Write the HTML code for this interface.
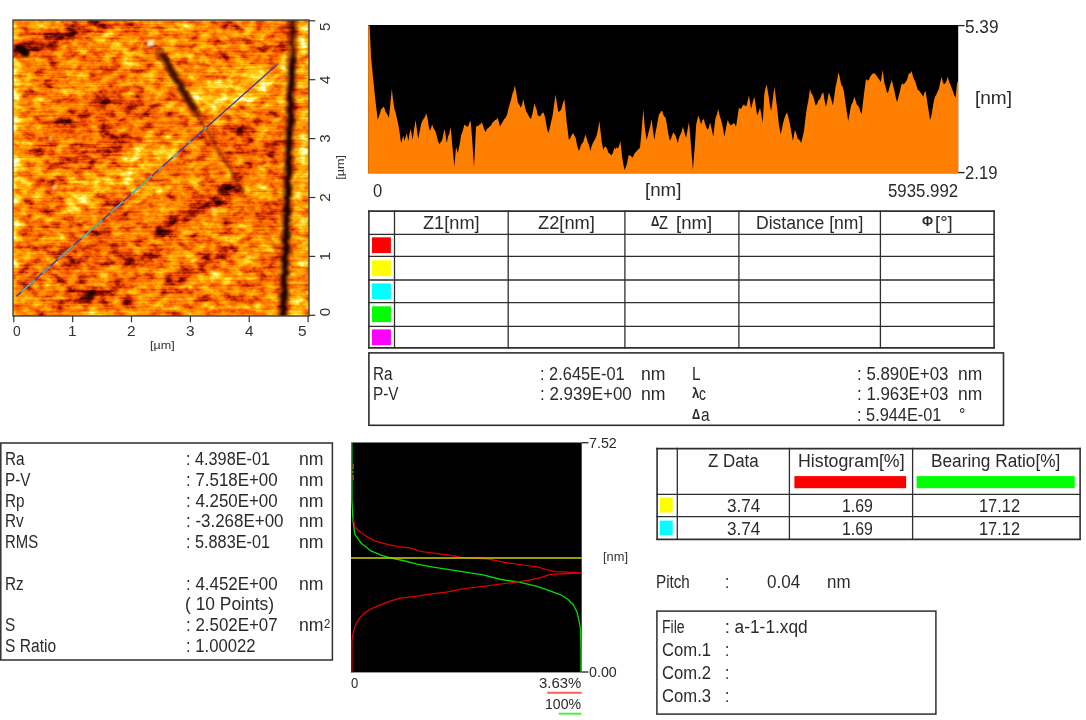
<!DOCTYPE html>
<html lang="en"><head><meta charset="utf-8"><title>AFM Analysis Report</title>
<style>
html,body{margin:0;padding:0;background:#fff;}
body{width:1086px;height:720px;position:relative;overflow:hidden;font-family:"Liberation Sans",sans-serif;}
#g{position:absolute;left:0;top:0;width:1086px;height:720px;}
.t{position:absolute;white-space:pre;transform-origin:0 0;font-family:"Liberation Sans",sans-serif;}
</style></head><body>
<svg id="g" width="1086" height="720" viewBox="0 0 1086 720">
<defs>
<filter id="afm" x="0" y="0" width="100%" height="100%" filterUnits="objectBoundingBox" color-interpolation-filters="sRGB">
  <feGaussianBlur in="SourceGraphic" stdDeviation="2.0" result="feat"/>
  <feTurbulence type="fractalNoise" baseFrequency="0.09 0.135" numOctaves="3" seed="7" result="n1"/>
  <feColorMatrix in="n1" type="matrix" values="1 0 0 0 0  1 0 0 0 0  1 0 0 0 0  0 0 0 0 1" result="g1"/>
  <feTurbulence type="fractalNoise" baseFrequency="0.032 0.045" numOctaves="2" seed="3" result="n2"/>
  <feColorMatrix in="n2" type="matrix" values="0 1 0 0 0  0 1 0 0 0  0 1 0 0 0  0 0 0 0 1" result="g2"/>
  <feTurbulence type="fractalNoise" baseFrequency="0.02 0.45" numOctaves="2" seed="11" result="n3"/>
  <feColorMatrix in="n3" type="matrix" values="0 0 1 0 0  0 0 1 0 0  0 0 1 0 0  0 0 0 0 1" result="g3"/>
  <feComposite in="g1" in2="g2" operator="arithmetic" k1="0" k2="0.86" k3="0.40" k4="-0.13" result="nz0"/>
  <feComposite in="nz0" in2="g3" operator="arithmetic" k1="0" k2="1" k3="0.32" k4="-0.16" result="nz"/>
  <feComposite in="nz" in2="feat" operator="arithmetic" k1="0" k2="1" k3="1" k4="-0.5" result="h"/>
  <feComponentTransfer in="h">
    <feFuncR type="table" tableValues="0 0.22 0.45 0.68 0.88 0.98 1 1 1 1 1"/>
    <feFuncG type="table" tableValues="0 0 0.04 0.13 0.26 0.40 0.53 0.66 0.79 0.90 1"/>
    <feFuncB type="table" tableValues="0 0 0 0 0 0 0 0.02 0.08 0.30 0.80"/>
    <feFuncA type="linear" slope="0" intercept="1"/>
  </feComponentTransfer>
</filter>
<filter id="ovb" x="0" y="0" width="330" height="340" filterUnits="userSpaceOnUse" color-interpolation-filters="sRGB"><feTurbulence type="fractalNoise" baseFrequency="0.06 0.16" numOctaves="2" seed="21" result="dn"/><feDisplacementMap in="SourceGraphic" in2="dn" scale="5" xChannelSelector="R" yChannelSelector="G" result="dp"/><feGaussianBlur in="dp" stdDeviation="1.0"/></filter>
<clipPath id="afmclip"><rect x="13.0" y="20.0" width="296.0" height="296.0"/></clipPath>
</defs>
<g clip-path="url(#afmclip)"><g filter="url(#afm)"><rect x="0" y="0" width="330" height="340" fill="rgb(147,147,147)"/><rect x="0" y="0" width="330" height="340" fill="rgb(147,147,147)"/><path d="M78.0 197.0 L120.0 172.0 L165.0 148.0" fill="none" stroke="rgb(191,191,191)" stroke-width="26" stroke-linecap="round" stroke-linejoin="round" opacity="0.75"/><path d="M205.0 100.0 L245.0 84.0 L282.0 70.0" fill="none" stroke="rgb(207,207,207)" stroke-width="30" stroke-linecap="round" stroke-linejoin="round" opacity="0.8"/><path d="M110.0 42.0 L150.0 30.0 L185.0 30.0" fill="none" stroke="rgb(178,178,178)" stroke-width="18" stroke-linecap="round" stroke-linejoin="round" opacity="0.5"/><path d="M180.0 300.0 L230.0 270.0 L275.0 250.0" fill="none" stroke="rgb(173,173,173)" stroke-width="22" stroke-linecap="round" stroke-linejoin="round" opacity="0.5"/><path d="M303.0 20.0 L300.0 316.0" fill="none" stroke="rgb(189,189,189)" stroke-width="11" stroke-linecap="round" stroke-linejoin="round" opacity="0.75"/><path d="M304.0 30.0 L303.0 150.0" fill="none" stroke="rgb(209,209,209)" stroke-width="7" stroke-linecap="round" stroke-linejoin="round" opacity="0.5"/><path d="M14.0 20.0 L14.0 316.0" fill="none" stroke="rgb(255,255,255)" stroke-width="3.5" stroke-linecap="round" stroke-linejoin="round" opacity="0.9"/><path d="M16.0 20.0 L16.0 316.0" fill="none" stroke="rgb(214,214,214)" stroke-width="7" stroke-linecap="round" stroke-linejoin="round" opacity="0.6"/><path d="M19.0 110.0 L19.0 316.0" fill="none" stroke="rgb(178,178,178)" stroke-width="8" stroke-linecap="round" stroke-linejoin="round" opacity="0.5"/><path d="M18.0 52.0 L55.0 38.0 L100.0 24.0" fill="none" stroke="rgb(56,56,56)" stroke-width="15" stroke-linecap="round" stroke-linejoin="round" opacity="0.85"/><ellipse cx="95" cy="132" rx="66" ry="30" fill="rgb(107,107,107)" opacity="0.7" transform="rotate(-22 95 132)"/><ellipse cx="245" cy="140" rx="36" ry="22" fill="rgb(107,107,107)" opacity="0.7" transform="rotate(-15 245 140)"/><path d="M150.0 236.0 L195.0 210.0 L236.0 190.0" fill="none" stroke="rgb(66,66,66)" stroke-width="13" stroke-linecap="round" stroke-linejoin="round" opacity="0.8"/><ellipse cx="90" cy="262" rx="72" ry="42" fill="rgb(112,112,112)" opacity="0.65" transform="rotate(-15 90 262)"/><path d="M168.0 282.0 L200.0 266.0 L232.0 250.0" fill="none" stroke="rgb(71,71,71)" stroke-width="11" stroke-linecap="round" stroke-linejoin="round" opacity="0.75"/><path d="M276.0 30.0 L275.0 300.0" fill="none" stroke="rgb(117,117,117)" stroke-width="10" stroke-linecap="round" stroke-linejoin="round" opacity="0.5"/><ellipse cx="288" cy="32" rx="8" ry="14" fill="rgb(64,64,64)" opacity="0.7" transform="rotate(0 288 32)"/><ellipse cx="225" cy="35" rx="36" ry="10" fill="rgb(117,117,117)" opacity="0.5" transform="rotate(0 225 35)"/><ellipse cx="222" cy="190" rx="8.4" ry="7.199999999999999" fill="rgb(51,51,51)" opacity="0.7" transform="rotate(-25 222 190)"/><ellipse cx="236" cy="178" rx="7.199999999999999" ry="6.0" fill="rgb(71,71,71)" opacity="0.7" transform="rotate(-25 236 178)"/><ellipse cx="135" cy="260" rx="9.6" ry="6.0" fill="rgb(71,71,71)" opacity="0.7" transform="rotate(-25 135 260)"/><ellipse cx="90" cy="295" rx="9.6" ry="6.0" fill="rgb(51,51,51)" opacity="0.7" transform="rotate(-25 90 295)"/><ellipse cx="55" cy="255" rx="9.6" ry="4.8" fill="rgb(84,84,84)" opacity="0.7" transform="rotate(-25 55 255)"/><ellipse cx="65" cy="120" rx="10.799999999999999" ry="6.0" fill="rgb(76,76,76)" opacity="0.7" transform="rotate(-25 65 120)"/><ellipse cx="50" cy="140" rx="9.6" ry="4.8" fill="rgb(84,84,84)" opacity="0.7" transform="rotate(-25 50 140)"/><ellipse cx="115" cy="145" rx="9.6" ry="6.0" fill="rgb(84,84,84)" opacity="0.7" transform="rotate(-25 115 145)"/><ellipse cx="245" cy="130" rx="9.6" ry="6.0" fill="rgb(76,76,76)" opacity="0.7" transform="rotate(-25 245 130)"/><ellipse cx="270" cy="150" rx="8.4" ry="4.8" fill="rgb(84,84,84)" opacity="0.7" transform="rotate(-25 270 150)"/><ellipse cx="60" cy="62" rx="10.799999999999999" ry="4.8" fill="rgb(97,97,97)" opacity="0.7" transform="rotate(-25 60 62)"/><ellipse cx="35" cy="215" rx="9.6" ry="4.8" fill="rgb(97,97,97)" opacity="0.7" transform="rotate(-25 35 215)"/><ellipse cx="120" cy="205" rx="8.4" ry="4.8" fill="rgb(110,110,110)" opacity="0.7" transform="rotate(-25 120 205)"/><ellipse cx="262" cy="215" rx="8.4" ry="4.8" fill="rgb(97,97,97)" opacity="0.7" transform="rotate(-25 262 215)"/><ellipse cx="130" cy="300" rx="9.6" ry="4.8" fill="rgb(97,97,97)" opacity="0.7" transform="rotate(-25 130 300)"/><ellipse cx="205" cy="155" rx="8.4" ry="4.8" fill="rgb(97,97,97)" opacity="0.7" transform="rotate(-25 205 155)"/><ellipse cx="270" cy="262" rx="9.6" ry="3.5999999999999996" fill="rgb(84,84,84)" opacity="0.7" transform="rotate(-25 270 262)"/><ellipse cx="100" cy="100" rx="9.6" ry="4.8" fill="rgb(97,97,97)" opacity="0.7" transform="rotate(-25 100 100)"/><ellipse cx="150" cy="118" rx="8.4" ry="4.8" fill="rgb(102,102,102)" opacity="0.7" transform="rotate(-25 150 118)"/><ellipse cx="200" cy="300" rx="8.4" ry="4.8" fill="rgb(110,110,110)" opacity="0.7" transform="rotate(-25 200 300)"/><ellipse cx="250" cy="290" rx="8.4" ry="4.8" fill="rgb(110,110,110)" opacity="0.7" transform="rotate(-25 250 290)"/></g>
<g filter="url(#ovb)"><path d="M292.8 20.0 L291.8 61.0 L290.3 110.0 L287.7 184.0 L285.6 250.0 L283.1 316.0" fill="none" stroke="#7a1e00" stroke-width="10.5" stroke-linecap="round" stroke-linejoin="round" opacity="0.55"/><path d="M292.3 60.0 L290.3 110.0 L287.7 184.0 L285.6 250.0 L283.1 316.0" fill="none" stroke="#1c0300" stroke-width="5.2" stroke-linecap="round" stroke-linejoin="round" opacity="0.95"/><path d="M292.8 20.0 L292.3 60.0" fill="none" stroke="#2a0500" stroke-width="3.4" stroke-linecap="round" stroke-linejoin="round" opacity="0.7"/><path d="M163.3 55.0 L176.0 79.0 L193.9 108.4" fill="none" stroke="#0e0100" stroke-width="5.6" stroke-linecap="round" stroke-linejoin="round" opacity="0.95"/><path d="M160.0 52.0 L196.0 112.0" fill="none" stroke="#7a1c00" stroke-width="10" stroke-linecap="round" stroke-linejoin="round" opacity="0.5"/><path d="M193.9 108.4 L210.0 137.0 L226.8 163.9 L243.3 192.7" fill="none" stroke="#5a1000" stroke-width="3.0" stroke-linecap="round" stroke-linejoin="round" opacity="0.5"/><path d="M243.3 192.7 L260.0 222.0 L276.2 250.3" fill="none" stroke="#6a1800" stroke-width="2.4" stroke-linecap="round" stroke-linejoin="round" opacity="0.22"/><ellipse cx="23" cy="50.5" rx="7.5" ry="4.2" fill="#0c0000" opacity="0.95" transform="rotate(30 23 50.5)"/><ellipse cx="88" cy="297" rx="5" ry="3" fill="#1c0300" opacity="0.8"/><ellipse cx="221" cy="191" rx="4" ry="3.5" fill="#2a0500" opacity="0.7"/><ellipse cx="151" cy="43" rx="4.2" ry="3.4" fill="#fff3c0" opacity="0.95"/><ellipse cx="54.5" cy="188" rx="2.2" ry="2.6" fill="#fff0b0" opacity="0.9"/><ellipse cx="213.2" cy="209.1" rx="2.2" ry="1.8" fill="#fff0b0" opacity="0.9"/><ellipse cx="50" cy="139" rx="1.8" ry="1.8" fill="#ffe890" opacity="0.85"/></g>
<line x1="16.3" y1="296.3" x2="277.2" y2="64.5" stroke="#4038a8" stroke-width="1.35"/>
<line x1="21.5" y1="291.7" x2="34.6" y2="280.1" stroke="#52c2ae" stroke-width="1.35"/>
<line x1="42.4" y1="273.1" x2="50.2" y2="266.2" stroke="#52c2ae" stroke-width="1.35"/>
<line x1="58.0" y1="259.2" x2="73.7" y2="245.3" stroke="#52c2ae" stroke-width="1.35"/>
<line x1="81.5" y1="238.4" x2="102.4" y2="219.8" stroke="#52c2ae" stroke-width="1.35"/>
<line x1="110.2" y1="212.9" x2="123.3" y2="201.3" stroke="#52c2ae" stroke-width="1.35"/>
<line x1="131.1" y1="194.3" x2="152.0" y2="175.8" stroke="#52c2ae" stroke-width="1.35"/>
<line x1="158.5" y1="170.0" x2="162.4" y2="166.5" stroke="#52c2ae" stroke-width="1.35"/>
<line x1="172.8" y1="157.2" x2="178.1" y2="152.6" stroke="#52c2ae" stroke-width="1.35"/>
<line x1="188.5" y1="143.3" x2="191.1" y2="141.0" stroke="#52c2ae" stroke-width="1.35"/>
<line x1="204.1" y1="129.4" x2="206.8" y2="127.1" stroke="#52c2ae" stroke-width="1.35"/>
</g>
<rect x="13.0" y="20.0" width="296.00" height="296.00" fill="none" stroke="#444" stroke-width="1.4"/>
<line x1="13.8" y1="316" x2="13.8" y2="322.2" stroke="#333" stroke-width="1.2"/>
<line x1="309" y1="20.8" x2="315.3" y2="20.8" stroke="#333" stroke-width="1.2"/>
<line x1="72.7" y1="316" x2="72.7" y2="322.2" stroke="#333" stroke-width="1.2"/>
<line x1="309" y1="79.7" x2="315.3" y2="79.7" stroke="#333" stroke-width="1.2"/>
<line x1="131.5" y1="316" x2="131.5" y2="322.2" stroke="#333" stroke-width="1.2"/>
<line x1="309" y1="138.6" x2="315.3" y2="138.6" stroke="#333" stroke-width="1.2"/>
<line x1="190.4" y1="316" x2="190.4" y2="322.2" stroke="#333" stroke-width="1.2"/>
<line x1="309" y1="197.5" x2="315.3" y2="197.5" stroke="#333" stroke-width="1.2"/>
<line x1="249.2" y1="316" x2="249.2" y2="322.2" stroke="#333" stroke-width="1.2"/>
<line x1="309" y1="256.4" x2="315.3" y2="256.4" stroke="#333" stroke-width="1.2"/>
<line x1="308.1" y1="316" x2="308.1" y2="322.2" stroke="#333" stroke-width="1.2"/>
<line x1="309" y1="315.3" x2="315.3" y2="315.3" stroke="#333" stroke-width="1.2"/>
<text transform="translate(329.80 30.91) rotate(-90) scale(1.0800 1)" font-family="Liberation Sans, sans-serif" font-size="14" fill="#333">5</text>
<text transform="translate(329.80 83.91) rotate(-90) scale(1.0800 1)" font-family="Liberation Sans, sans-serif" font-size="14" fill="#333">4</text>
<text transform="translate(329.80 142.81) rotate(-90) scale(1.0800 1)" font-family="Liberation Sans, sans-serif" font-size="14" fill="#333">3</text>
<text transform="translate(329.80 201.71) rotate(-90) scale(1.0800 1)" font-family="Liberation Sans, sans-serif" font-size="14" fill="#333">2</text>
<text transform="translate(329.80 260.61) rotate(-90) scale(1.0800 1)" font-family="Liberation Sans, sans-serif" font-size="14" fill="#333">1</text>
<text transform="translate(329.80 316.21) rotate(-90) scale(1.0800 1)" font-family="Liberation Sans, sans-serif" font-size="14" fill="#333">0</text>
<text transform="translate(344.40 179.80) rotate(-90) scale(1.0973 1)" font-family="Liberation Sans, sans-serif" font-size="11.5" fill="#333">[µm]</text>
<rect x="368.2" y="25.0" width="590.00" height="148.30" fill="#000"/>
<path d="M368.2 173.3 L368.2 25.5 L369.6 25.5 L371.1 57.8 L373.3 80.0 L374.5 91.5 L375.6 102.2 L377.8 120.0 L380.0 113.3 L381.1 109.6 L382.2 108.2 L383.3 106.7 L384.4 108.0 L385.6 111.9 L386.7 113.3 L388.9 117.8 L390.4 103.6 L391.8 88.9 L393.1 100.2 L394.4 108.9 L395.5 112.0 L396.7 117.5 L397.8 122.2 L398.9 127.7 L400.0 135.4 L401.1 143.3 L403.3 135.6 L404.4 141.0 L405.5 137.2 L406.7 133.3 L408.4 141.0 L409.5 133.4 L410.7 128.9 L412.7 140.0 L414.1 129.0 L415.6 120.0 L416.9 129.9 L418.2 138.9 L419.6 131.8 L421.1 124.4 L422.4 120.7 L423.6 119.1 L424.9 117.1 L426.2 113.3 L427.5 117.7 L428.7 126.1 L430.0 131.1 L432.2 124.4 L433.3 127.8 L434.4 129.5 L435.6 131.7 L436.7 135.6 L438.1 141.5 L439.6 144.4 L440.9 141.7 L442.2 140.0 L444.4 128.9 L445.5 134.8 L446.7 143.3 L448.0 136.5 L449.4 133.3 L450.7 126.7 L452.2 144.4 L454.4 166.7 L456.0 146.7 L457.8 153.3 L458.9 147.7 L460.0 142.5 L461.1 135.6 L462.8 130.7 L464.4 124.4 L465.8 125.7 L467.1 126.7 L468.3 126.3 L469.5 122.6 L470.7 121.1 L472.2 140.0 L474.0 167.8 L476.0 126.7 L477.2 126.0 L478.3 126.0 L479.5 124.4 L480.6 124.3 L481.8 122.2 L483.1 125.8 L484.3 129.5 L485.6 132.2 L487.0 129.1 L488.4 128.0 L489.7 126.6 L491.1 125.6 L492.2 123.0 L493.3 122.1 L494.5 120.4 L495.6 119.7 L496.7 119.5 L497.8 117.8 L500.0 126.7 L501.1 124.5 L502.2 122.7 L503.4 120.4 L504.5 118.8 L505.6 117.8 L507.1 114.4 L508.5 108.6 L510.0 103.3 L511.2 99.2 L512.5 93.4 L513.7 90.8 L514.9 85.6 L516.3 92.8 L517.8 102.2 L519.2 104.6 L520.7 107.8 L522.0 104.9 L523.3 98.9 L524.6 105.4 L526.0 111.1 L527.3 113.2 L528.5 115.6 L529.8 118.0 L531.1 118.9 L532.8 112.0 L534.4 103.3 L535.5 106.5 L536.7 110.0 L537.8 115.6 L538.9 115.6 L540.0 116.7 L541.6 113.7 L543.3 112.2 L544.5 115.2 L545.6 120.0 L546.9 128.1 L548.2 133.3 L549.5 129.3 L550.9 122.4 L552.2 117.8 L553.3 110.5 L554.5 101.9 L555.6 94.4 L557.0 104.6 L558.4 112.2 L559.8 111.0 L561.1 110.0 L562.8 103.7 L564.4 98.9 L565.5 109.7 L566.7 122.2 L568.9 140.0 L570.4 138.0 L571.8 134.8 L573.3 133.3 L574.5 135.8 L575.6 137.8 L577.2 145.7 L578.9 151.1 L580.0 148.2 L581.1 145.0 L582.2 143.3 L583.3 141.9 L584.5 137.4 L585.6 134.4 L587.8 142.2 L589.1 145.3 L590.4 151.1 L591.6 146.3 L592.8 143.2 L594.0 141.1 L595.4 138.8 L596.7 135.6 L598.0 129.3 L599.3 121.1 L600.5 130.9 L601.6 141.1 L603.3 150.0 L604.5 147.0 L605.6 146.7 L607.0 148.5 L608.4 152.7 L609.7 153.5 L611.1 155.6 L612.8 153.2 L614.4 147.8 L615.5 149.3 L616.7 147.0 L617.8 148.9 L619.1 145.7 L620.4 141.1 L622.2 157.8 L624.4 170.0 L625.5 167.8 L626.7 164.4 L628.9 154.4 L630.0 155.7 L631.1 155.9 L632.2 157.8 L633.3 156.6 L634.5 153.2 L635.6 152.6 L636.7 151.1 L638.4 149.3 L640.0 147.8 L641.6 131.1 L643.3 108.9 L644.9 128.9 L646.7 140.0 L648.9 131.1 L650.2 126.5 L651.6 118.9 L653.0 130.7 L654.4 140.0 L655.5 132.6 L656.7 126.7 L658.9 114.4 L660.0 113.3 L661.1 111.2 L662.2 111.1 L663.3 114.7 L664.5 116.8 L665.6 117.8 L666.9 124.9 L668.2 133.3 L670.0 141.1 L671.6 137.1 L673.3 132.2 L674.5 134.2 L675.6 135.6 L677.8 143.3 L678.9 138.3 L680.0 135.6 L681.5 132.0 L682.9 126.7 L684.0 130.5 L685.1 135.0 L686.2 137.8 L687.5 130.1 L688.9 122.2 L690.0 132.9 L691.1 146.7 L692.9 170.0 L694.9 144.4 L696.2 124.4 L698.2 115.6 L699.7 119.4 L701.1 124.4 L702.5 120.1 L703.8 118.9 L705.1 124.0 L706.5 127.5 L707.8 130.0 L708.9 127.2 L710.0 122.2 L711.6 128.8 L713.3 136.7 L714.5 125.8 L715.6 117.8 L716.9 114.6 L718.2 108.9 L719.7 115.9 L721.1 120.0 L722.8 127.0 L724.4 136.7 L725.5 131.1 L726.7 124.2 L727.8 120.0 L728.9 122.7 L730.0 124.6 L731.1 125.6 L733.3 123.3 L734.6 123.8 L736.0 126.7 L737.5 117.2 L738.9 107.8 L740.0 108.5 L741.1 108.9 L742.5 105.9 L744.0 104.4 L745.4 106.2 L746.7 105.6 L748.9 95.6 L750.0 102.0 L751.1 108.9 L752.8 101.9 L754.4 96.7 L755.8 106.3 L757.1 115.6 L758.5 112.4 L760.0 107.8 L761.4 114.6 L762.7 123.3 L764.4 93.3 L765.5 88.2 L766.7 84.4 L768.9 97.8 L770.0 106.0 L771.1 111.1 L772.8 99.4 L774.4 86.7 L775.5 95.4 L776.7 104.4 L778.9 124.4 L780.7 134.4 L782.0 128.4 L783.3 122.2 L784.6 117.7 L785.8 114.7 L787.1 112.2 L788.5 117.8 L790.0 124.4 L791.5 133.0 L792.9 141.1 L794.9 130.0 L796.3 133.6 L797.8 138.9 L798.9 139.5 L800.0 140.5 L801.1 143.3 L802.5 137.6 L804.0 131.1 L805.4 119.1 L806.7 108.9 L808.4 100.2 L810.0 88.9 L811.1 92.8 L812.2 94.4 L813.3 96.8 L814.5 101.0 L815.6 105.6 L817.1 103.9 L818.5 100.2 L820.0 98.9 L821.6 94.4 L823.3 92.2 L824.6 100.8 L826.0 106.7 L827.5 99.7 L828.9 92.2 L830.0 95.5 L831.1 98.9 L832.9 105.6 L834.2 97.1 L835.6 86.7 L837.0 80.4 L838.4 72.2 L839.8 77.3 L841.1 84.4 L842.5 86.5 L843.8 91.1 L844.9 98.7 L846.0 106.7 L847.1 113.7 L848.2 121.1 L849.7 113.2 L851.1 105.6 L852.8 101.9 L854.4 96.7 L855.5 100.2 L856.7 104.2 L857.8 105.6 L859.1 107.2 L860.3 111.2 L861.6 114.4 L863.0 102.2 L864.4 91.1 L866.0 78.9 L867.5 80.6 L868.9 80.0 L870.0 77.0 L871.1 75.6 L872.8 73.5 L874.4 73.3 L875.5 74.6 L876.7 76.1 L877.8 77.8 L879.2 79.3 L880.7 82.2 L882.7 70.0 L884.4 83.3 L885.8 87.5 L887.1 93.3 L888.4 91.4 L889.6 86.7 L891.8 80.0 L893.1 85.4 L894.4 91.1 L895.8 97.8 L897.1 102.2 L898.5 96.8 L900.0 91.1 L901.1 85.8 L902.2 83.3 L903.3 84.5 L904.5 83.6 L905.6 82.2 L907.2 79.3 L908.9 73.3 L910.2 73.6 L911.6 71.1 L913.0 76.7 L914.4 80.0 L915.5 82.3 L916.7 86.6 L917.8 90.0 L918.9 90.2 L920.0 91.9 L921.1 93.3 L923.3 96.7 L924.5 92.5 L925.6 91.1 L927.8 105.6 L928.9 112.4 L930.0 120.0 L931.1 117.1 L932.2 111.1 L933.5 103.1 L934.9 96.7 L936.2 95.0 L937.6 91.4 L938.9 88.9 L940.2 82.6 L941.6 76.7 L942.8 82.0 L944.0 84.4 L946.0 82.2 L947.8 76.7 L949.1 82.1 L950.4 84.4 L951.8 88.5 L953.3 92.2 L954.5 95.7 L955.6 97.8 L957.1 82.2 L958.2 82.2 L958.2 173.3 Z" fill="#ff8000"/>
<line x1="958.2" y1="25.6" x2="964.6" y2="25.6" stroke="#222" stroke-width="1.3"/>
<line x1="958.2" y1="172.6" x2="964.6" y2="172.6" stroke="#222" stroke-width="1.3"/>
<line x1="368.9" y1="210.39999999999998" x2="368.9" y2="348.59999999999997" stroke="#2e2e2e" stroke-width="1.6"/>
<line x1="394.5" y1="210.39999999999998" x2="394.5" y2="348.59999999999997" stroke="#2e2e2e" stroke-width="1.3"/>
<line x1="508.2" y1="210.39999999999998" x2="508.2" y2="348.59999999999997" stroke="#2e2e2e" stroke-width="1.3"/>
<line x1="624.9" y1="210.39999999999998" x2="624.9" y2="348.59999999999997" stroke="#2e2e2e" stroke-width="1.3"/>
<line x1="738.9" y1="210.39999999999998" x2="738.9" y2="348.59999999999997" stroke="#2e2e2e" stroke-width="1.3"/>
<line x1="880.4" y1="210.39999999999998" x2="880.4" y2="348.59999999999997" stroke="#2e2e2e" stroke-width="1.3"/>
<line x1="994.1" y1="210.39999999999998" x2="994.1" y2="348.59999999999997" stroke="#2e2e2e" stroke-width="1.6"/>
<line x1="368.09999999999997" y1="211.2" x2="994.9" y2="211.2" stroke="#2e2e2e" stroke-width="1.7"/>
<line x1="368.09999999999997" y1="234.3" x2="994.9" y2="234.3" stroke="#2e2e2e" stroke-width="1.3"/>
<line x1="368.09999999999997" y1="256.3" x2="994.9" y2="256.3" stroke="#2e2e2e" stroke-width="1.3"/>
<line x1="368.09999999999997" y1="280.0" x2="994.9" y2="280.0" stroke="#2e2e2e" stroke-width="1.3"/>
<line x1="368.09999999999997" y1="302.6" x2="994.9" y2="302.6" stroke="#2e2e2e" stroke-width="1.3"/>
<line x1="368.09999999999997" y1="326.4" x2="994.9" y2="326.4" stroke="#2e2e2e" stroke-width="1.3"/>
<line x1="368.09999999999997" y1="347.9" x2="994.9" y2="347.9" stroke="#2e2e2e" stroke-width="1.7"/>
<rect x="372.0" y="237.3" width="18.90" height="15.80" fill="#ff0000"/>
<rect x="372.0" y="260.3" width="18.90" height="15.80" fill="#ffff00"/>
<rect x="372.0" y="283.4" width="18.90" height="15.80" fill="#00ffff"/>
<rect x="372.0" y="306.3" width="18.90" height="15.80" fill="#00ff00"/>
<rect x="372.0" y="329.4" width="18.90" height="15.80" fill="#ff00ff"/>
<rect x="368.9" y="352.9" width="634.60" height="72.40" fill="none" stroke="#2e2e2e" stroke-width="1.6"/>
<rect x="0.8" y="443.0" width="331.60" height="217.00" fill="none" stroke="#2e2e2e" stroke-width="1.5"/>
<rect x="351.0" y="442.5" width="230.70" height="229.90" fill="#000"/>
<path d="M351.8 442.5 L351.9 500.0 L353.1 521.7 L354.9 534.3 L361.3 543.3 L370.3 550.6 L381.1 555.1 L390.1 557.8 L402.8 560.5 L417.2 564.1 L431.7 566.8 L446.1 569.2 L460.6 571.3 L475.0 573.7 L483.1 574.9 L501.1 579.5 L519.2 582.2 L537.2 586.3 L549.9 590.8 L560.7 594.8 L567.9 599.3 L573.3 604.7 L577.0 612.0 L579.1 621.0 L580.6 630.0 L581.0 650.0 L581.0 672.4" fill="none" stroke="#00e000" stroke-width="1.3" stroke-linejoin="round"/>
<path d="M353.1 518.1 L354.9 527.1 L363.1 534.3 L373.9 540.6 L386.5 544.2 L397.4 546.6 L410.0 547.9 L420.8 551.5 L435.3 553.3 L449.7 555.1 L460.6 557.4 L475.0 558.1 L488.5 559.2 L504.7 562.3 L522.8 565.0 L537.2 566.8 L546.3 569.5 L555.3 571.7 L566.1 572.2 L581.5 573.1" fill="none" stroke="#e00000" stroke-width="1.25" stroke-linejoin="round"/>
<path d="M581.5 573.1 L566.1 573.7 L549.9 574.4 L540.8 577.6 L528.2 580.4 L515.6 582.2 L501.1 584.0 L483.1 586.3 L465.0 588.5 L460.6 589.4 L446.1 592.1 L431.7 593.9 L417.2 596.1 L399.2 598.4 L390.1 601.1 L381.1 604.7 L372.1 608.3 L364.9 612.9 L359.4 618.3 L355.8 624.6 L354.0 630.0 L352.5 636.0 L351.9 642.5 L351.9 672.4" fill="none" stroke="#e00000" stroke-width="1.25" stroke-linejoin="round"/>
<line x1="353.2" y1="464" x2="353.2" y2="482" stroke="#e03000" stroke-width="1.3" stroke-dasharray="5 2 2 2"/>
<line x1="351.0" y1="558.1" x2="581.7" y2="558.1" stroke="#d2d000" stroke-width="1.5"/>
<line x1="581.7" y1="442.7" x2="588.4" y2="442.7" stroke="#222" stroke-width="1.3"/>
<line x1="581.7" y1="672.0" x2="588.4" y2="672.0" stroke="#222" stroke-width="1.3"/>
<line x1="547.2" y1="692.8" x2="581.7" y2="692.8" stroke="#ff5a5a" stroke-width="2.0"/>
<line x1="558.7" y1="713.7" x2="581.4" y2="713.7" stroke="#48f048" stroke-width="2.0"/>
<line x1="657.1" y1="447.8" x2="657.1" y2="540.0" stroke="#2e2e2e" stroke-width="1.6"/>
<line x1="677.3" y1="447.8" x2="677.3" y2="540.0" stroke="#2e2e2e" stroke-width="1.3"/>
<line x1="789.4" y1="447.8" x2="789.4" y2="540.0" stroke="#2e2e2e" stroke-width="1.3"/>
<line x1="912.6" y1="447.8" x2="912.6" y2="540.0" stroke="#2e2e2e" stroke-width="1.3"/>
<line x1="1080.1" y1="447.8" x2="1080.1" y2="540.0" stroke="#2e2e2e" stroke-width="1.6"/>
<line x1="656.3000000000001" y1="448.6" x2="1080.8999999999999" y2="448.6" stroke="#2e2e2e" stroke-width="1.7"/>
<line x1="656.3000000000001" y1="494.3" x2="1080.8999999999999" y2="494.3" stroke="#2e2e2e" stroke-width="1.3"/>
<line x1="656.3000000000001" y1="516.6" x2="1080.8999999999999" y2="516.6" stroke="#2e2e2e" stroke-width="1.3"/>
<line x1="656.3000000000001" y1="539.3" x2="1080.8999999999999" y2="539.3" stroke="#2e2e2e" stroke-width="1.7"/>
<rect x="794.4" y="476.1" width="111.70" height="12.10" fill="#ff0000"/>
<rect x="916.6" y="476.1" width="158.10" height="12.10" fill="#00ff00"/>
<rect x="659.7" y="497.7" width="13.00" height="14.80" fill="#ffff00"/>
<rect x="659.7" y="520.6" width="13.00" height="14.60" fill="#00ffff"/>
<rect x="656.9" y="611.1" width="279.00" height="103.00" fill="none" stroke="#2e2e2e" stroke-width="1.5"/>
</svg>
<span class="t" style="left:13.30px;top:322.65px;font-size:14px;line-height:17px;transform:scaleX(0.9872);color:#333;">0</span>
<span class="t" style="left:68.17px;top:322.65px;font-size:14px;line-height:17px;transform:scaleX(1.1000);color:#333;">1</span>
<span class="t" style="left:127.03px;top:322.65px;font-size:14px;line-height:17px;transform:scaleX(1.1000);color:#333;">2</span>
<span class="t" style="left:185.89px;top:322.65px;font-size:14px;line-height:17px;transform:scaleX(1.1000);color:#333;">3</span>
<span class="t" style="left:244.75px;top:322.65px;font-size:14px;line-height:17px;transform:scaleX(1.1000);color:#333;">4</span>
<span class="t" style="left:298.42px;top:322.65px;font-size:14px;line-height:17px;transform:scaleX(1.1000);color:#333;">5</span>
<span class="t" style="left:149.70px;top:337.95px;font-size:11.5px;line-height:14px;transform:scaleX(1.0929);color:#333;">[µm]</span>
<span class="t" style="left:964.60px;top:15.55px;font-size:18px;line-height:22px;transform:scaleX(0.9558);color:#2a2a2a;">5.39</span>
<span class="t" style="left:965.20px;top:161.65px;font-size:18px;line-height:22px;transform:scaleX(0.9272);color:#2a2a2a;">2.19</span>
<span class="t" style="left:974.80px;top:87.15px;font-size:18px;line-height:22px;transform:scaleX(1.0571);color:#2a2a2a;">[nm]</span>
<span class="t" style="left:372.50px;top:179.85px;font-size:18px;line-height:22px;transform:scaleX(0.9200);color:#2a2a2a;">0</span>
<span class="t" style="left:644.70px;top:179.45px;font-size:18px;line-height:22px;transform:scaleX(1.0400);color:#2a2a2a;">[nm]</span>
<span class="t" style="left:887.60px;top:180.15px;font-size:18px;line-height:22px;transform:scaleX(0.9334);color:#2a2a2a;">5935.992</span>
<span class="t" style="left:423.40px;top:212.25px;font-size:18px;line-height:22px;transform:scaleX(1.0107);color:#2a2a2a;">Z1[nm]</span>
<span class="t" style="left:538.30px;top:212.25px;font-size:18px;line-height:22px;transform:scaleX(1.0143);color:#2a2a2a;">Z2[nm]</span>
<span class="t" style="left:650.70px;top:213.15px;font-size:14.5px;line-height:17px;transform:scaleX(0.7938);color:#2a2a2a;font-weight:bold;">Δ</span>
<span class="t" style="left:659.40px;top:212.25px;font-size:18px;line-height:22px;transform:scaleX(0.8182);color:#2a2a2a;">Z</span>
<span class="t" style="left:675.90px;top:212.25px;font-size:18px;line-height:22px;transform:scaleX(1.0314);color:#2a2a2a;">[nm]</span>
<span class="t" style="left:756.00px;top:212.25px;font-size:18px;line-height:22px;transform:scaleX(0.9750);color:#2a2a2a;">Distance [nm]</span>
<span class="t" style="left:922.10px;top:213.15px;font-size:14.5px;line-height:17px;transform:scaleX(0.9264);color:#2a2a2a;font-weight:bold;">Φ</span>
<span class="t" style="left:935.00px;top:212.25px;font-size:18px;line-height:22px;transform:scaleX(1.0291);color:#2a2a2a;">[°]</span>
<span class="t" style="left:373.30px;top:362.65px;font-size:18px;line-height:22px;transform:scaleX(0.8500);color:#2a2a2a;">Ra</span>
<span class="t" style="left:373.30px;top:383.35px;font-size:18px;line-height:22px;transform:scaleX(0.8500);color:#2a2a2a;">P-V</span>
<span class="t" style="left:539.60px;top:362.65px;font-size:18px;line-height:22px;transform:scaleX(0.9103);color:#2a2a2a;">: 2.645E-01</span>
<span class="t" style="left:539.60px;top:383.35px;font-size:18px;line-height:22px;transform:scaleX(0.9406);color:#2a2a2a;">: 2.939E+00</span>
<span class="t" style="left:640.50px;top:362.65px;font-size:18px;line-height:22px;transform:scaleX(0.9800);color:#2a2a2a;">nm</span>
<span class="t" style="left:640.50px;top:383.35px;font-size:18px;line-height:22px;transform:scaleX(0.9800);color:#2a2a2a;">nm</span>
<span class="t" style="left:692.30px;top:362.65px;font-size:18px;line-height:22px;transform:scaleX(0.8500);color:#2a2a2a;">L</span>
<span class="t" style="left:691.90px;top:385.05px;font-size:14.5px;line-height:17px;transform:scaleX(0.9103);color:#2a2a2a;font-weight:bold;">λ</span>
<span class="t" style="left:699.30px;top:383.35px;font-size:18px;line-height:22px;transform:scaleX(0.7667);color:#2a2a2a;">c</span>
<span class="t" style="left:692.30px;top:404.35px;font-size:15.5px;line-height:19px;transform:scaleX(0.7343);color:#2a2a2a;font-weight:bold;">Δ</span>
<span class="t" style="left:701.20px;top:404.05px;font-size:18px;line-height:22px;transform:scaleX(0.8557);color:#2a2a2a;">a</span>
<span class="t" style="left:857.20px;top:362.65px;font-size:18px;line-height:22px;transform:scaleX(0.9375);color:#2a2a2a;">: 5.890E+03</span>
<span class="t" style="left:857.20px;top:383.35px;font-size:18px;line-height:22px;transform:scaleX(0.9375);color:#2a2a2a;">: 1.963E+03</span>
<span class="t" style="left:857.20px;top:404.05px;font-size:18px;line-height:22px;transform:scaleX(0.9070);color:#2a2a2a;">: 5.944E-01</span>
<span class="t" style="left:958.40px;top:362.65px;font-size:18px;line-height:22px;transform:scaleX(0.9680);color:#2a2a2a;">nm</span>
<span class="t" style="left:958.40px;top:383.35px;font-size:18px;line-height:22px;transform:scaleX(0.9680);color:#2a2a2a;">nm</span>
<span class="t" style="left:958.60px;top:404.05px;font-size:18px;line-height:22px;transform:scaleX(0.8889);color:#2a2a2a;">°</span>
<span class="t" style="left:5.20px;top:448.05px;font-size:18px;line-height:22px;transform:scaleX(0.8500);color:#2a2a2a;">Ra</span>
<span class="t" style="left:5.20px;top:468.81px;font-size:18px;line-height:22px;transform:scaleX(0.8500);color:#2a2a2a;">P-V</span>
<span class="t" style="left:5.20px;top:489.56px;font-size:18px;line-height:22px;transform:scaleX(0.8500);color:#2a2a2a;">Rp</span>
<span class="t" style="left:5.20px;top:510.32px;font-size:18px;line-height:22px;transform:scaleX(0.8500);color:#2a2a2a;">Rv</span>
<span class="t" style="left:5.20px;top:531.07px;font-size:18px;line-height:22px;transform:scaleX(0.8275);color:#2a2a2a;">RMS</span>
<span class="t" style="left:5.20px;top:572.58px;font-size:18px;line-height:22px;transform:scaleX(0.8500);color:#2a2a2a;">Rz</span>
<span class="t" style="left:5.20px;top:614.09px;font-size:18px;line-height:22px;transform:scaleX(0.8500);color:#2a2a2a;">S</span>
<span class="t" style="left:5.20px;top:634.85px;font-size:18px;line-height:22px;transform:scaleX(0.8654);color:#2a2a2a;">S Ratio</span>
<span class="t" style="left:186.20px;top:448.05px;font-size:18px;line-height:22px;transform:scaleX(0.9027);color:#2a2a2a;">: 4.398E-01</span>
<span class="t" style="left:186.20px;top:468.81px;font-size:18px;line-height:22px;transform:scaleX(0.9395);color:#2a2a2a;">: 7.518E+00</span>
<span class="t" style="left:186.20px;top:489.56px;font-size:18px;line-height:22px;transform:scaleX(0.9395);color:#2a2a2a;">: 4.250E+00</span>
<span class="t" style="left:186.20px;top:510.32px;font-size:18px;line-height:22px;transform:scaleX(0.9411);color:#2a2a2a;">: -3.268E+00</span>
<span class="t" style="left:186.20px;top:531.07px;font-size:18px;line-height:22px;transform:scaleX(0.9027);color:#2a2a2a;">: 5.883E-01</span>
<span class="t" style="left:186.20px;top:572.58px;font-size:18px;line-height:22px;transform:scaleX(0.9395);color:#2a2a2a;">: 4.452E+00</span>
<span class="t" style="left:184.80px;top:593.34px;font-size:18px;line-height:22px;transform:scaleX(0.9669);color:#2a2a2a;">( 10 Points)</span>
<span class="t" style="left:186.20px;top:614.09px;font-size:18px;line-height:22px;transform:scaleX(0.9395);color:#2a2a2a;">: 2.502E+07</span>
<span class="t" style="left:186.20px;top:634.85px;font-size:18px;line-height:22px;transform:scaleX(0.9260);color:#2a2a2a;">: 1.00022</span>
<span class="t" style="left:298.50px;top:448.05px;font-size:18px;line-height:22px;transform:scaleX(0.9800);color:#2a2a2a;">nm</span>
<span class="t" style="left:298.50px;top:468.81px;font-size:18px;line-height:22px;transform:scaleX(0.9800);color:#2a2a2a;">nm</span>
<span class="t" style="left:298.50px;top:489.56px;font-size:18px;line-height:22px;transform:scaleX(0.9800);color:#2a2a2a;">nm</span>
<span class="t" style="left:298.50px;top:510.32px;font-size:18px;line-height:22px;transform:scaleX(0.9800);color:#2a2a2a;">nm</span>
<span class="t" style="left:298.50px;top:531.07px;font-size:18px;line-height:22px;transform:scaleX(0.9800);color:#2a2a2a;">nm</span>
<span class="t" style="left:298.50px;top:572.58px;font-size:18px;line-height:22px;transform:scaleX(0.9800);color:#2a2a2a;">nm</span>
<span class="t" style="left:298.50px;top:614.09px;font-size:18px;line-height:22px;transform:scaleX(0.9800);color:#2a2a2a;">nm</span>
<span class="t" style="left:324.00px;top:617.25px;font-size:12.5px;line-height:15px;transform:scaleX(0.9065);color:#2a2a2a;">2</span>
<span class="t" style="left:588.90px;top:434.65px;font-size:14px;line-height:17px;transform:scaleX(1.0202);color:#2a2a2a;">7.52</span>
<span class="t" style="left:588.90px;top:663.55px;font-size:14px;line-height:17px;transform:scaleX(1.0202);color:#2a2a2a;">0.00</span>
<span class="t" style="left:603.10px;top:549.55px;font-size:12px;line-height:14px;transform:scaleX(1.0707);color:#333;">[nm]</span>
<span class="t" style="left:351.20px;top:675.15px;font-size:14px;line-height:17px;transform:scaleX(0.9359);color:#2a2a2a;">0</span>
<span class="t" style="left:538.70px;top:674.75px;font-size:14px;line-height:17px;transform:scaleX(1.0655);color:#2a2a2a;">3.63%</span>
<span class="t" style="left:544.60px;top:695.75px;font-size:14px;line-height:17px;transform:scaleX(1.0056);color:#2a2a2a;">100%</span>
<span class="t" style="left:707.70px;top:449.55px;font-size:18px;line-height:22px;transform:scaleX(0.9380);color:#2a2a2a;">Z Data</span>
<span class="t" style="left:797.50px;top:449.55px;font-size:18px;line-height:22px;transform:scaleX(0.9866);color:#2a2a2a;">Histogram[%]</span>
<span class="t" style="left:930.80px;top:449.55px;font-size:18px;line-height:22px;transform:scaleX(0.9574);color:#2a2a2a;">Bearing Ratio[%]</span>
<span class="t" style="left:727.00px;top:495.35px;font-size:18px;line-height:22px;transform:scaleX(0.9529);color:#2a2a2a;">3.74</span>
<span class="t" style="left:841.60px;top:495.35px;font-size:18px;line-height:22px;transform:scaleX(0.8816);color:#2a2a2a;">1.69</span>
<span class="t" style="left:979.00px;top:495.35px;font-size:18px;line-height:22px;transform:scaleX(0.9101);color:#2a2a2a;">17.12</span>
<span class="t" style="left:727.00px;top:518.05px;font-size:18px;line-height:22px;transform:scaleX(0.9529);color:#2a2a2a;">3.74</span>
<span class="t" style="left:841.60px;top:518.05px;font-size:18px;line-height:22px;transform:scaleX(0.8816);color:#2a2a2a;">1.69</span>
<span class="t" style="left:979.00px;top:518.05px;font-size:18px;line-height:22px;transform:scaleX(0.9101);color:#2a2a2a;">17.12</span>
<span class="t" style="left:656.30px;top:571.05px;font-size:18px;line-height:22px;transform:scaleX(0.8450);color:#2a2a2a;">Pitch</span>
<span class="t" style="left:725.30px;top:571.05px;font-size:18px;line-height:22px;transform:scaleX(0.8500);color:#2a2a2a;">:</span>
<span class="t" style="left:767.40px;top:571.05px;font-size:18px;line-height:22px;transform:scaleX(0.9472);color:#2a2a2a;">0.04</span>
<span class="t" style="left:826.80px;top:571.05px;font-size:18px;line-height:22px;transform:scaleX(0.9400);color:#2a2a2a;">nm</span>
<span class="t" style="left:661.80px;top:616.15px;font-size:18px;line-height:22px;transform:scaleX(0.7828);color:#2a2a2a;">File</span>
<span class="t" style="left:725.30px;top:616.15px;font-size:18px;line-height:22px;transform:scaleX(0.9611);color:#2a2a2a;">: a-1-1.xqd</span>
<span class="t" style="left:661.80px;top:639.15px;font-size:18px;line-height:22px;transform:scaleX(0.9245);color:#2a2a2a;">Com.1</span>
<span class="t" style="left:725.30px;top:639.15px;font-size:18px;line-height:22px;transform:scaleX(0.8500);color:#2a2a2a;">:</span>
<span class="t" style="left:661.80px;top:661.85px;font-size:18px;line-height:22px;transform:scaleX(0.9245);color:#2a2a2a;">Com.2</span>
<span class="t" style="left:725.30px;top:661.85px;font-size:18px;line-height:22px;transform:scaleX(0.8500);color:#2a2a2a;">:</span>
<span class="t" style="left:661.80px;top:684.55px;font-size:18px;line-height:22px;transform:scaleX(0.9245);color:#2a2a2a;">Com.3</span>
<span class="t" style="left:725.30px;top:684.55px;font-size:18px;line-height:22px;transform:scaleX(0.8500);color:#2a2a2a;">:</span>
</body></html>
